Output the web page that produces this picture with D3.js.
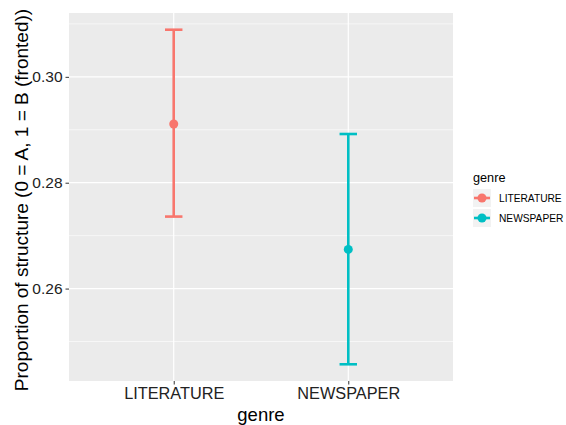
<!DOCTYPE html>
<html>
<head>
<meta charset="utf-8">
<script src="https://cdn.jsdelivr.net/npm/d3@7"></script>
<style>
  body { margin: 0; background: #fff; }
  text { font-family: "Liberation Sans", Arial, sans-serif; }
</style>
</head>
<body>
<div id="chart"></div>
<script>
const genres = ["LITERATURE", "NEWSPAPER"]
const means = [0.2911, 0.2674]
const lower = [0.2736, 0.2457]
const upper = [0.3089, 0.2892]
const yTicks = [0.26, 0.28, 0.30]
const yMinor = [0.25, 0.27, 0.29, 0.31]
const colors = ["#F8766D", "#00BFC4"]

const width = 566, height = 425
const panel = { left: 69, right: 453, top: 13, bottom: 381 }

const svg = d3.select("#chart").append("svg")
  .attr("width", width)
  .attr("height", height)

// ggplot-style expanded domains
const lo = d3.min(lower), hi = d3.max(upper)
const pad = (hi - lo) * 0.05
const y = d3.scaleLinear().domain([lo - pad, hi + pad]).range([panel.bottom, panel.top])
const x = d3.scaleLinear().domain([0.4, genres.length + 0.6]).range([panel.left, panel.right])

// Panel background
svg.append("rect")
  .attr("x", panel.left).attr("y", panel.top)
  .attr("width", panel.right - panel.left).attr("height", panel.bottom - panel.top)
  .attr("fill", "#EBEBEB")

const grid = svg.append("g")
grid.selectAll(".minor").data(yMinor).join("line")
  .attr("x1", panel.left).attr("x2", panel.right)
  .attr("y1", d => y(d)).attr("y2", d => y(d))
  .attr("stroke", "#fff").attr("stroke-width", 0.6)
grid.selectAll(".major").data(yTicks).join("line")
  .attr("x1", panel.left).attr("x2", panel.right)
  .attr("y1", d => y(d)).attr("y2", d => y(d))
  .attr("stroke", "#fff").attr("stroke-width", 1.2)
grid.selectAll(".vmajor").data(genres).join("line")
  .attr("x1", (d, i) => x(i + 1)).attr("x2", (d, i) => x(i + 1))
  .attr("y1", panel.top).attr("y2", panel.bottom)
  .attr("stroke", "#fff").attr("stroke-width", 1.2)

// Axes
const yAxis = svg.append("g")
  .attr("transform", `translate(${panel.left},0)`)
  .call(d3.axisLeft(y).tickValues(yTicks).tickFormat(d3.format(".2f")).tickSize(3.5).tickPadding(3))
yAxis.select(".domain").remove()
yAxis.selectAll("line").attr("stroke", "#333")
yAxis.selectAll("text").attr("font-size", 15.5).attr("fill", "#222")
  .style("font-family", "'Liberation Sans', Arial, sans-serif")

const xAxis = svg.append("g")
  .attr("transform", `translate(0,${panel.bottom})`)
  .call(d3.axisBottom(x).tickValues(genres.map((d, i) => i + 1)).tickFormat((d, i) => genres[i]).tickSize(3.5).tickPadding(3))
xAxis.select(".domain").remove()
xAxis.selectAll("line").attr("stroke", "#333")
xAxis.selectAll("text").attr("font-size", 16.3).attr("fill", "#222")
  .style("font-family", "'Liberation Sans', Arial, sans-serif")

// Axis titles
svg.append("text")
  .attr("x", (panel.left + panel.right) / 2).attr("y", 421)
  .attr("text-anchor", "middle").attr("font-size", 18.5).attr("fill", "#000")
  .text("genre")
svg.append("text")
  .attr("transform", `translate(28,${(panel.top + panel.bottom) / 2 + 3}) rotate(-90)`)
  .attr("text-anchor", "middle").attr("font-size", 19).attr("fill", "#000")
  .text("Proportion of structure (0 = A, 1 = B (fronted))")

// Error bars
const capHalf = (x(1.05) - x(1))
const bars = svg.append("g").selectAll("g").data(genres).join("g")
bars.append("line")
  .attr("x1", (d, i) => x(i + 1)).attr("x2", (d, i) => x(i + 1))
  .attr("y1", (d, i) => y(lower[i])).attr("y2", (d, i) => y(upper[i]))
  .attr("stroke", (d, i) => colors[i]).attr("stroke-width", 2.6)
bars.append("line")
  .attr("x1", (d, i) => x(i + 1) - capHalf).attr("x2", (d, i) => x(i + 1) + capHalf)
  .attr("y1", (d, i) => y(upper[i])).attr("y2", (d, i) => y(upper[i]))
  .attr("stroke", (d, i) => colors[i]).attr("stroke-width", 2.6)
bars.append("line")
  .attr("x1", (d, i) => x(i + 1) - capHalf).attr("x2", (d, i) => x(i + 1) + capHalf)
  .attr("y1", (d, i) => y(lower[i])).attr("y2", (d, i) => y(lower[i]))
  .attr("stroke", (d, i) => colors[i]).attr("stroke-width", 2.6)
bars.append("circle")
  .attr("cx", (d, i) => x(i + 1)).attr("cy", (d, i) => y(means[i]))
  .attr("r", 4.5).attr("fill", (d, i) => colors[i])

// Legend
const legend = svg.append("g").attr("transform", "translate(473,0)")
legend.append("text")
  .attr("x", 0).attr("y", 182)
  .attr("font-size", 12.7).attr("fill", "#000")
  .text("genre")
const keys = legend.selectAll(".key").data(genres).join("g")
  .attr("transform", (d, i) => `translate(0,${189 + i * 20})`)
keys.append("rect")
  .attr("width", 18).attr("height", 18).attr("fill", "#F2F2F2")
keys.append("line")
  .attr("x1", 1).attr("x2", 17).attr("y1", 9).attr("y2", 9)
  .attr("stroke", (d, i) => colors[i]).attr("stroke-width", 2.6)
keys.append("circle")
  .attr("cx", 9).attr("cy", 9).attr("r", 4.5)
  .attr("fill", (d, i) => colors[i])
keys.append("text")
  .attr("x", 26).attr("y", 9).attr("dy", "0.35em")
  .attr("font-size", 10.2).attr("fill", "#000")
  .text(d => d)
</script>
</body>
</html>
